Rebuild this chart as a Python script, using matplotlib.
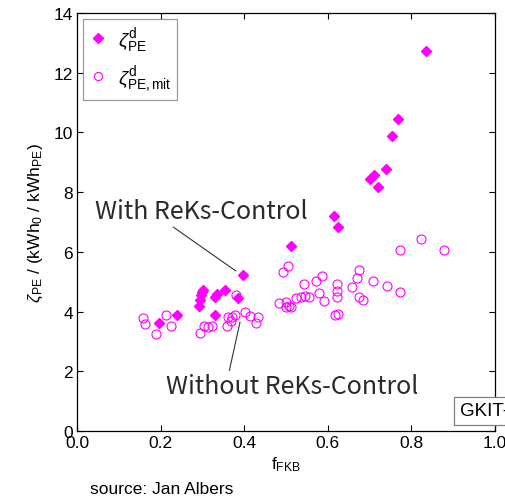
import matplotlib
matplotlib.use("Agg")
import matplotlib.pyplot as plt
import numpy as np

plt.rcParams["font.family"] = ["Liberation Sans", "DejaVu Sans"]
plt.rcParams["mathtext.fontset"] = "custom"
plt.rcParams["mathtext.rm"] = "Liberation Sans"
plt.rcParams["mathtext.it"] = "Liberation Sans:italic"

# with ReKs-Control (filled diamonds)
f_with = [0.196, 0.239, 0.292, 0.294, 0.296, 0.299, 0.302, 0.330, 0.331, 0.336, 0.354,
          0.385, 0.397, 0.513, 0.615, 0.625, 0.702, 0.710, 0.720, 0.740, 0.753, 0.769, 0.836]
z_with = [3.62, 3.88, 4.20, 4.39, 4.56, 4.67, 4.72, 3.90, 4.50, 4.60, 4.71,
          4.44, 5.22, 6.18, 7.19, 6.82, 8.43, 8.56, 8.17, 8.77, 9.88, 10.46, 12.72]

# without ReKs-Control (open circles)
f_mit = [0.158, 0.162, 0.188, 0.214, 0.224, 0.294, 0.304, 0.314, 0.324, 0.358, 0.362,
         0.368, 0.371, 0.377, 0.380, 0.403, 0.414, 0.429, 0.433, 0.484, 0.493, 0.504,
         0.500, 0.501, 0.508, 0.511, 0.524, 0.535, 0.545, 0.543, 0.554, 0.571, 0.579,
         0.587, 0.591, 0.618, 0.624, 0.622, 0.622, 0.622, 0.659, 0.671, 0.675, 0.675,
         0.685, 0.707, 0.741, 0.773, 0.772, 0.823, 0.879]
z_mit = [3.78, 3.59, 3.24, 3.89, 3.53, 3.29, 3.53, 3.47, 3.53, 3.52, 3.83,
         3.69, 3.83, 3.87, 4.56, 3.97, 3.86, 3.63, 3.83, 4.28, 5.33, 5.53,
         4.14, 4.31, 4.20, 4.14, 4.47, 4.48, 4.53, 4.91, 4.50, 5.02, 4.61,
         5.19, 4.37, 3.89, 3.91, 4.92, 4.70, 4.48, 4.83, 5.13, 5.39, 4.48,
         4.39, 5.03, 4.87, 4.67, 6.06, 6.44, 6.06]

xticks = [0.0, 0.2, 0.4, 0.6, 0.8, 1.0]
yticks = [0, 2, 4, 6, 8, 10, 12, 14]

MAG = "#ff00ff"

fig = plt.figure(figsize=(5.05, 5.02), dpi=100)
ax = fig.add_axes([0.1525, 0.1394, 0.8277, 0.8327])

ax.plot(f_with, z_with, "D", color=MAG, markersize=5.5, linestyle="none",
        label=r"$\zeta^{\rm d}_{\rm PE}$", zorder=3)
ax.plot(f_mit, z_mit, "o", markerfacecolor="none", markeredgecolor=MAG,
        markeredgewidth=0.8, markersize=6.5, linestyle="none",
        label=r"$\zeta^{\rm d}_{\rm PE,mit}$", zorder=3)

ax.set_xlim(0, 1)
ax.set_ylim(0, 14)
ax.set_xticks(xticks)
ax.set_xticklabels([f"{t:.1f}" for t in xticks])
ax.set_yticks(yticks)
ax.tick_params(direction="in", length=4, width=0.8, labelsize=12.5, top=True, right=True,
               pad=3)
for s in ax.spines.values():
    s.set_linewidth(0.9)

ax.set_xlabel(r"f$_{\rm FKB}$", fontsize=12.5, labelpad=3)
ax.set_ylabel(r"$\zeta_{\rm PE}$ / (kWh$_0$ / kWh$_{\rm PE}$)", fontsize=12.5, labelpad=6)

leg = ax.legend(loc="upper left", fontsize=14, frameon=True, fancybox=False,
                borderaxespad=0.3, handlelength=1.0, handletextpad=0.5, labelspacing=0.5,
                borderpad=0.3, markerscale=0.9)
leg.get_frame().set_edgecolor("#808080")
leg.get_frame().set_linewidth(0.9)

ann_font = ["Noto Sans CJK KR", "Noto Sans", "DejaVu Sans"]
ax.annotate("With ReKs-Control", xy=(0.380, 5.36), xytext=(0.297, 7.36),
            fontsize=18, family=ann_font, color="#2a2a2a", ha="center", va="center",
            arrowprops=dict(arrowstyle="-", color="#333333", lw=0.8,
                            shrinkA=0, shrinkB=0, relpos=(0.35, 0.0)))
ax.annotate("Without ReKs-Control", xy=(0.390, 3.65), xytext=(0.514, 1.5),
            fontsize=18, family=ann_font, color="#2a2a2a", ha="center", va="center",
            arrowprops=dict(arrowstyle="-", color="#333333", lw=0.8,
                            shrinkA=0, shrinkB=0, relpos=(0.25, 1.0)))

fig.text(460 / 505, 1 - 412 / 502, "GKIT-EBT", fontsize=13.5, ha="left", va="center",
         bbox=dict(boxstyle="square,pad=0.3", facecolor="white", edgecolor="#808080", lw=0.9))

fig.text(90 / 505, 1 - 490 / 502, "source: Jan Albers", fontsize=12.5, ha="left", va="center")

fig.savefig("out.png", dpi=100)
